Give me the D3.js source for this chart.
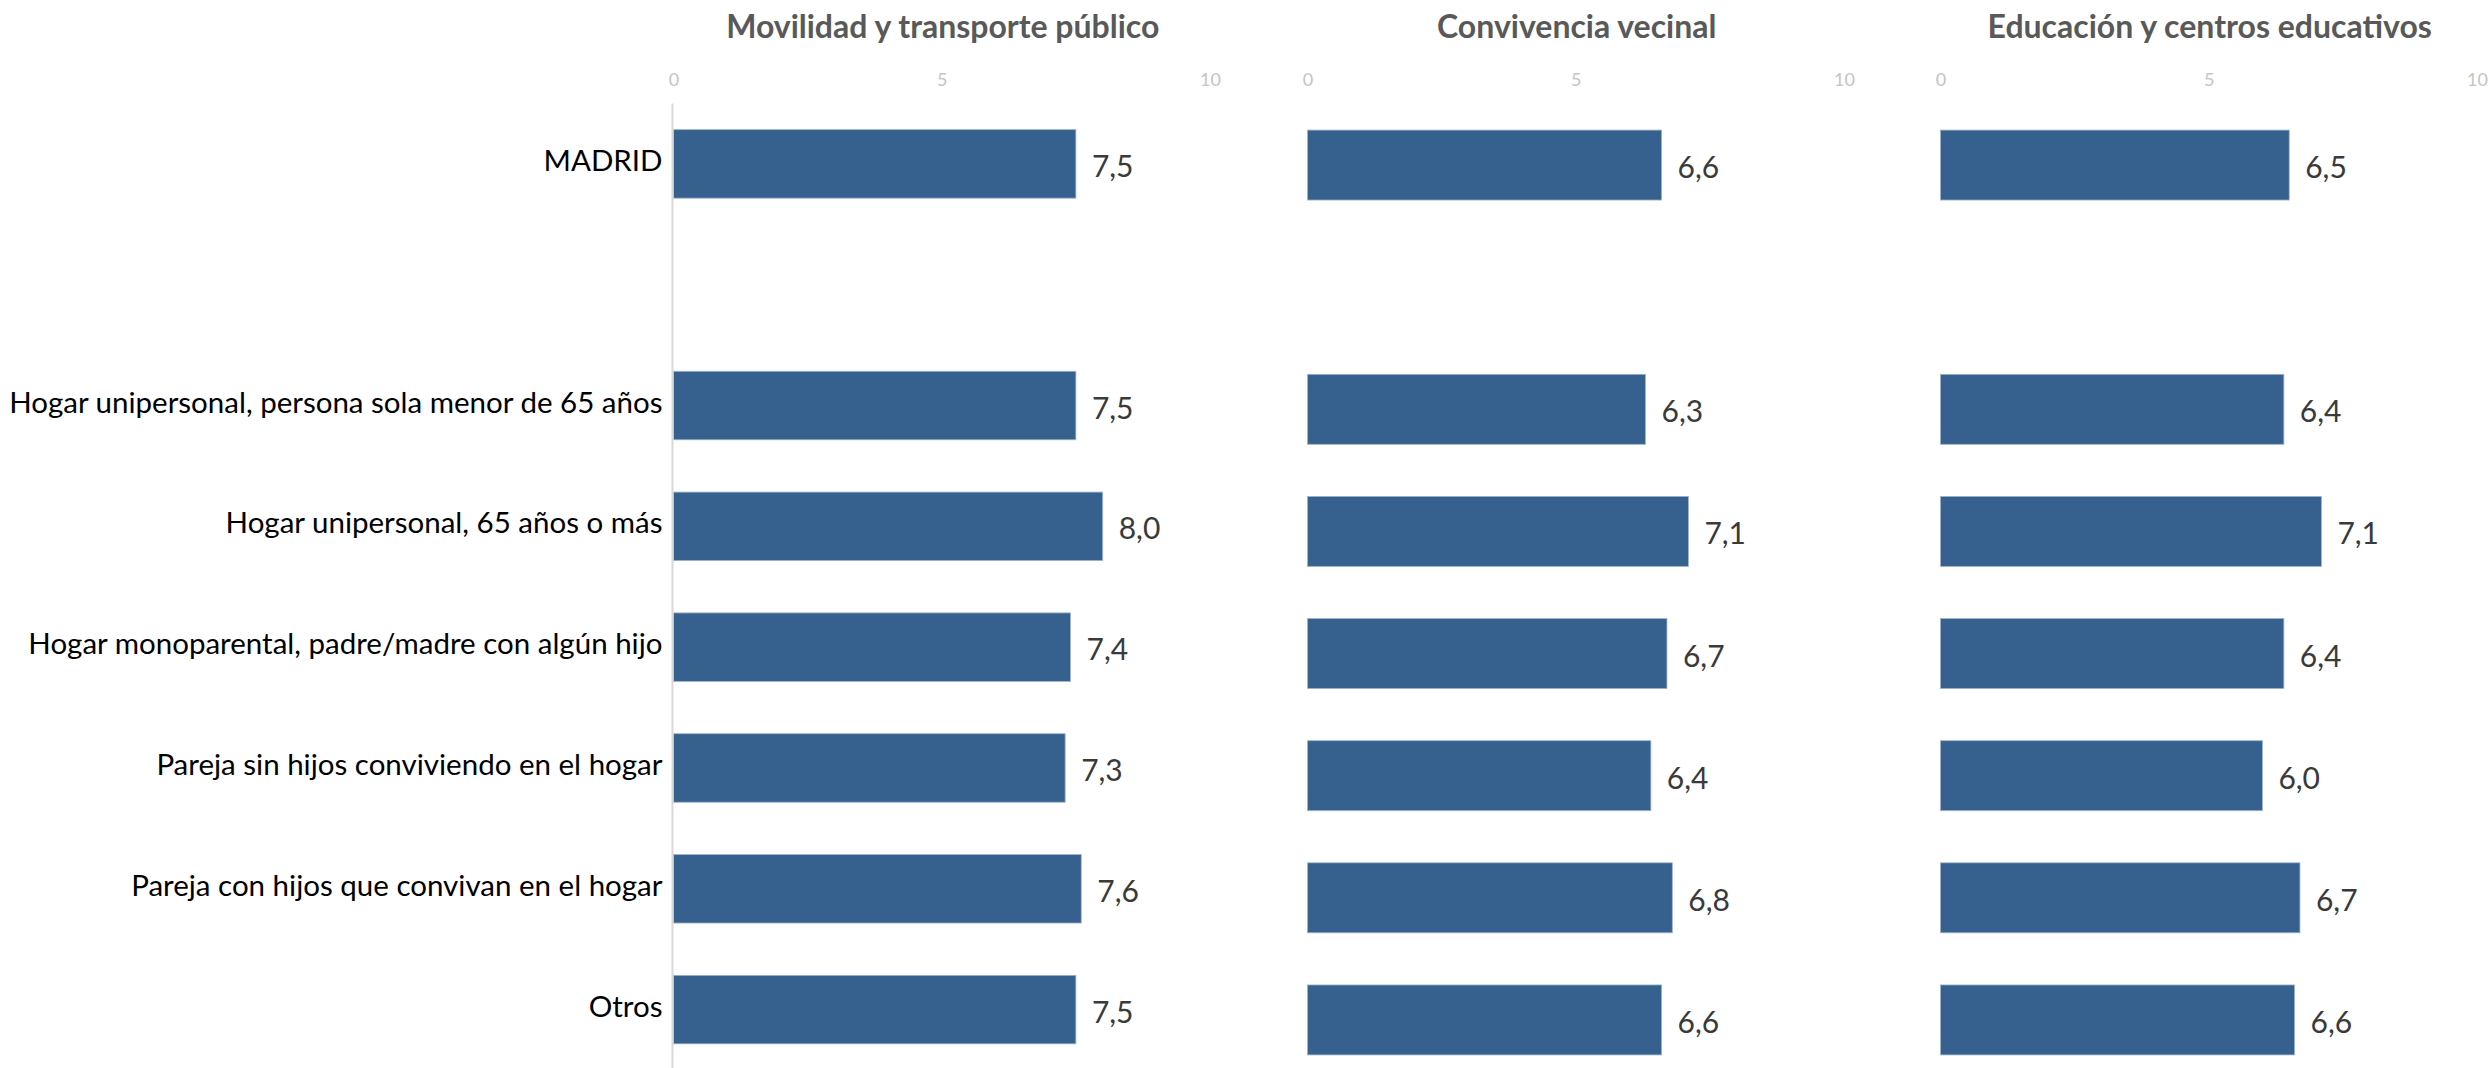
<!DOCTYPE html>
<html>
<head>
<meta charset="utf-8">
<script src="https://cdn.jsdelivr.net/npm/d3@7"></script>
<style>
  html, body { margin: 0; padding: 0; background: #fff; }
  svg { display: block; font-family: Lato, "Open Sans", sans-serif; }
</style>
</head>
<body>
<svg id="chart" width="2491" height="1068"></svg>
<script>
// ---- data ----
const categories = [
  "MADRID",
  " ",
  "Hogar unipersonal, persona sola menor de 65 años",
  "Hogar unipersonal, 65 años o más",
  "Hogar monoparental, padre/madre con algún hijo",
  "Pareja sin hijos conviviendo en el hogar",
  "Pareja con hijos que convivan en el hogar",
  "Otros"
];
const panelTitles = ["Movilidad y transporte público", "Convivencia vecinal", "Educación y centros educativos"];
const movilidad   = [7.5, null, 7.5, 8.0, 7.4, 7.3, 7.6, 7.5];
const convivencia = [6.6, null, 6.3, 7.1, 6.7, 6.4, 6.8, 6.6];
const educacion   = [6.5, null, 6.4, 7.1, 6.4, 6.0, 6.7, 6.6];
const tickValues  = [0, 5, 10];

const series = [movilidad, convivencia, educacion];

// ---- layout ----
const svg = d3.select("#chart");
const panelStarts = [673.5, 1307.5, 1940.5];
const panelWidth = 536.5;
const panelYRanges = [[103.5, 1070], [104, 1081], [104, 1081]];
const panelPadding = [0.433, 0.427, 0.427];
const barColor = "#36618f";

const fmt = v => v.toFixed(1).replace(".", ",");

series.forEach((vals, p) => {
  const x = d3.scaleLinear().domain([0, 10]).range([panelStarts[p], panelStarts[p] + panelWidth]);
  const y = d3.scaleBand()
    .domain(categories)
    .range(panelYRanges[p])
    .paddingInner(panelPadding[p])
    .paddingOuter(panelPadding[p] / 2);
  const g = svg.append("g");

  // title
  g.append("text")
    .attr("x", (x.range()[0] + x.range()[1]) / 2 + 1)
    .attr("y", 38)
    .attr("text-anchor", "middle")
    .attr("font-size", 32)
    .attr("font-weight", 700)
    .attr("fill", "#595959")
    .text(panelTitles[p]);

  // top axis
  const ax = g.append("g")
    .attr("transform", "translate(0,86)")
    .call(d3.axisTop(x).tickValues(tickValues).tickSize(0).tickPadding(0).tickFormat(d3.format("d")));
  ax.select(".domain").remove();
  ax.selectAll("text")
    .attr("font-family", "Lato, sans-serif")
    .attr("font-size", 18)
    .attr("fill", "#c4c4c4")
    .attr("dy", 0);

  // bars
  const rows = categories.map((c, i) => ({ c, v: vals[i] })).filter(d => d.v != null);
  g.selectAll("rect.bar").data(rows).join("rect")
    .attr("class", "bar")
    .attr("x", x(0))
    .attr("y", d => y(d.c))
    .attr("width", d => x(d.v) - x(0))
    .attr("height", y.bandwidth())
    .attr("fill", barColor)
    .attr("stroke", "#9fb3cc")
    .attr("stroke-width", 0.8);

  g.selectAll("text.val").data(rows).join("text")
    .attr("class", "val")
    .attr("x", d => x(d.v) + 16)
    .attr("y", d => y(d.c) + y.bandwidth() / 2 + 13)
    .attr("font-size", 30)
    .attr("fill", "#3a3a3a")
    .text(d => fmt(d.v));

  if (p === 0) {
    // vertical axis line
    g.append("line")
      .attr("x1", x(0) - 1).attr("x2", x(0) - 1)
      .attr("y1", y.range()[0]).attr("y2", 1068)
      .attr("stroke", "#d9d9d9").attr("stroke-width", 2);

    // category labels
    const yAxis = g.append("g")
      .attr("transform", `translate(${x(0) - 11},0)`)
      .call(d3.axisLeft(y).tickSize(0).tickPadding(0));
    yAxis.select(".domain").remove();
    yAxis.selectAll("text")
      .attr("font-family", "Lato, sans-serif")
      .attr("font-size", 29.5)
      .attr("fill", "#000")
      .attr("dy", 7);
  }
});
</script>
</body>
</html>
